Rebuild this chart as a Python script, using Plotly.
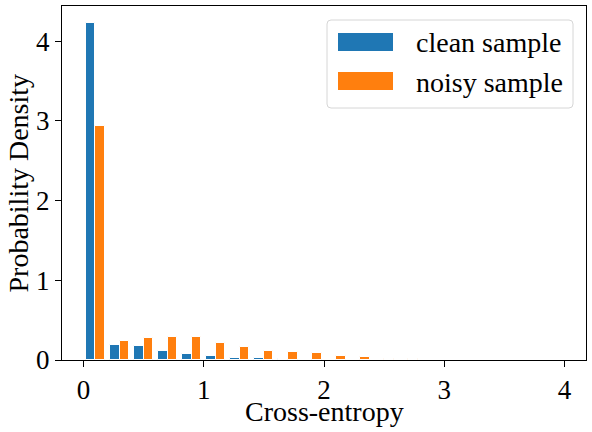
import numpy as np
import plotly.graph_objects as go

bin_edges = [round(0.2 * i, 1) for i in range(21)]
clean_density = [4.23, 0.19, 0.18, 0.11, 0.075, 0.05, 0.025, 0.025, 0.008, 0.006,
                 0.004, 0.003, 0.002, 0.001, 0.0, 0.0, 0.0, 0.0, 0.0, 0.0]
noisy_density = [2.94, 0.24, 0.28, 0.29, 0.29, 0.21, 0.165, 0.11, 0.10, 0.09,
                 0.05, 0.04, 0.015, 0.01, 0.003, 0.002, 0.001, 0.0, 0.0, 0.0]
series_names = ["clean sample", "noisy sample"]
colors = ["#1f77b4", "#ff7f0e"]

binw = 0.2
barw = binw * 0.8 / 2
lefts = np.array(bin_edges[:-1])

W, H = 592, 432
ML, MR, MT, MB = 62, 6, 6, 72
PW, PH = W - ML - MR, H - MT - MB


def px(xp):
    return (xp - ML) / PW


def py(yp):
    return 1 - (yp - MT) / PH


fig = go.Figure()
for k, (name, vals, c) in enumerate(zip(series_names, [clean_density, noisy_density], colors)):
    centers = lefts + binw * 0.1 + barw * (k + 0.5)
    fig.add_trace(go.Bar(
        x=centers, y=vals, width=barw, name=name,
        marker=dict(color=c, line=dict(color="white", width=1)),
        showlegend=False,
    ))

font = "Liberation Serif, Times New Roman, serif"

# custom matplotlib-style legend
shapes = []
bx0, bx1, by0, by1, r = 327, 573, 20, 108, 4
path = (f"M {px(bx0 + r)},{py(by0)} L {px(bx1 - r)},{py(by0)} "
        f"Q {px(bx1)},{py(by0)} {px(bx1)},{py(by0 + r)} "
        f"L {px(bx1)},{py(by1 - r)} Q {px(bx1)},{py(by1)} {px(bx1 - r)},{py(by1)} "
        f"L {px(bx0 + r)},{py(by1)} Q {px(bx0)},{py(by1)} {px(bx0)},{py(by1 - r)} "
        f"L {px(bx0)},{py(by0 + r)} Q {px(bx0)},{py(by0)} {px(bx0 + r)},{py(by0)} Z")
shapes.append(dict(type="path", xref="paper", yref="paper", path=path,
                   line=dict(color="#d6d6d6", width=1), fillcolor="rgba(255,255,255,0.8)"))
annotations = []
row_centers = [42, 81]
for name, c, yc in zip(series_names, colors, row_centers):
    shapes.append(dict(type="rect", xref="paper", yref="paper",
                       x0=px(338), x1=px(393), y0=py(yc - 9), y1=py(yc + 9),
                       line=dict(width=0), fillcolor=c))
    annotations.append(dict(xref="paper", yref="paper", x=px(414), y=py(yc + 1),
                            xanchor="left", yanchor="middle", showarrow=False,
                            text=name, font=dict(family=font, size=28, color="black")))

# axis titles as annotations for exact placement
annotations.append(dict(xref="paper", yref="paper", x=0.5, y=py(411),
                        xanchor="center", yanchor="middle", showarrow=False,
                        text="Cross-entropy", font=dict(family=font, size=28, color="black")))
annotations.append(dict(xref="paper", yref="paper", x=px(0), y=0.5,
                        xanchor="left", yanchor="middle", showarrow=False, textangle=-90,
                        text="Probability Density", font=dict(family=font, size=28, color="black")))

fig.update_layout(
    width=W, height=H,
    margin=dict(l=ML, r=MR, t=MT, b=MB, autoexpand=False),
    plot_bgcolor="white", paper_bgcolor="white",
    barmode="overlay", bargap=0,
    font=dict(family=font, size=27, color="black"),
    showlegend=False,
    shapes=shapes,
    annotations=annotations,
    xaxis=dict(
        range=[-0.178, 4.178], tickvals=[0, 1, 2, 3, 4],
        showgrid=False, zeroline=False, automargin=False,
        showline=True, linecolor="black", linewidth=1, mirror=True,
        ticks="outside", ticklen=6, tickcolor="black",
        tickfont=dict(size=27),
    ),
    yaxis=dict(
        range=[0, 4.44], tickvals=[0, 1, 2, 3, 4],
        showgrid=False, zeroline=False, automargin=False,
        showline=True, linecolor="black", linewidth=1, mirror=True,
        ticks="outside", ticklen=6, tickcolor="black",
        tickfont=dict(size=27),
    ),
)

fig.write_html("out.html")
